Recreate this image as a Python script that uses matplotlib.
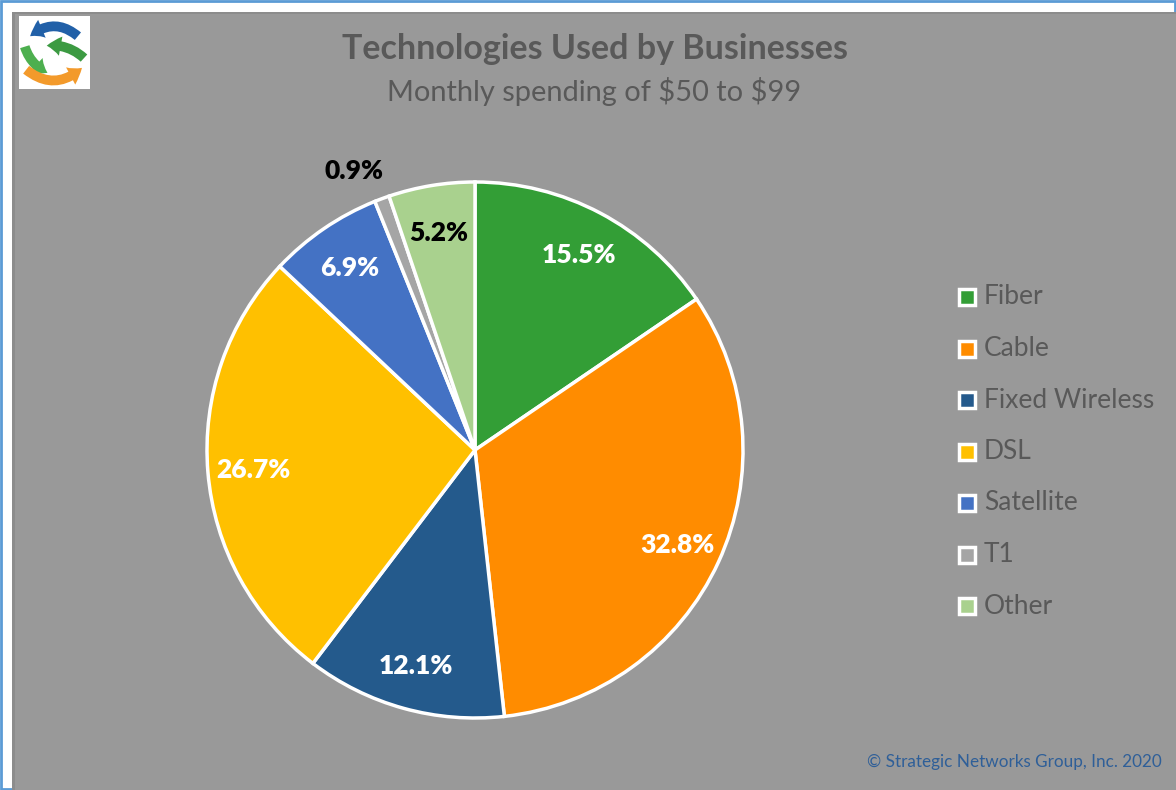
import numpy as np
import matplotlib
matplotlib.use("Agg")
import matplotlib.pyplot as plt
from matplotlib.patches import Rectangle, FancyArrowPatch

plt.rcParams['font.family'] = ['Lato', 'DejaVu Sans']

# data
techs = ["Fiber", "Cable", "Fixed Wireless", "DSL", "Satellite", "T1", "Other"]
shares = [15.5, 32.8, 12.1, 26.7, 6.9, 0.9, 5.2]
colors = ["#339E36", "#FF8C00", "#245A8C", "#FFC000", "#4472C4", "#A5A5A5", "#A9D18E"]
label_colors = ["white", "white", "white", "white", "white", "black", "black"]

title = "Technologies Used by Businesses"
subtitle = "Monthly spending of \\$50 to \\$99"
credit = "\u00a9 Strategic Networks Group, Inc. 2020"

W, H = 1176, 790
fig = plt.figure(figsize=(W / 100, H / 100), dpi=100, facecolor="white")
ax = fig.add_axes([0, 0, 1, 1])
ax.set_xlim(0, W)
ax.set_ylim(0, H)
ax.axis("off")

def py(y):
    # pixel row (from top) -> data y
    return H - y

# frame: blue border, white margin, grey panel
ax.add_patch(Rectangle((1, 1), W - 2, H - 2, fc="white", ec="#5B9BD5", lw=2, zorder=0))
ax.add_patch(Rectangle((12, 0), W - 12, py(12), fc="#999999", ec="none", zorder=0))
ax.add_patch(Rectangle((12, py(14)), W, 2, fc="#8C8C8C", ec="none", zorder=0))
ax.add_patch(Rectangle((12, 0), 3, py(12), fc="#8C8C8C", ec="none", zorder=0))

# logo
ax.add_patch(Rectangle((19, py(89)), 71, 73, fc="white", ec="none", zorder=1))
arrows = [((80, 38), (28, 38), 0.45, "#2160A8"),
          ((24, 44), (50, 74), 0.25, "#4DAF4F"),
          ((86, 60), (44, 46), 0.25, "#3C9A42"),
          ((24, 68), (84, 66), 0.45, "#F39A2B")]
for (x0, y0), (x1, y1), rad, c in arrows:
    ax.add_patch(FancyArrowPatch((x0, py(y0)), (x1, py(y1)),
                                 connectionstyle="arc3,rad=%s" % rad,
                                 arrowstyle="simple,head_width=14,head_length=10,tail_width=7",
                                 fc=c, ec="none", zorder=2))

# pie
cx, cy, r = 475, py(450), 268
wedges, _ = ax.pie(shares, colors=colors, startangle=90, counterclock=False,
                   center=(cx, cy), radius=r, frame=True,
                   wedgeprops=dict(edgecolor="white", linewidth=2.5))
ax.set_xlim(0, W)
ax.set_ylim(0, H)
ax.set_aspect("auto")
ax.axis("off")

for w, v, lc, name in zip(wedges, shares, label_colors, techs):
    mid = np.deg2rad((w.theta1 + w.theta2) / 2)
    if name == "T1":
        d, mid = 1.14 * r, mid + np.deg2rad(3)
    else:
        d = 0.83 * r
    ax.text(cx + d * np.cos(mid), cy + d * np.sin(mid), "%.1f%%" % v,
            ha="center", va="center_baseline", fontsize=19, fontweight="heavy",
            color=lc, zorder=5)

# titles
ax.text(595, py(49), title, ha="center", va="center", fontsize=24.5,
        fontweight="bold", color="#595959")
ax.text(594, py(91), subtitle, ha="center", va="center", fontsize=20.9, color="#595959")

# legend
for i, (name, c) in enumerate(zip(techs, colors)):
    yy = py(297 + i * 51.5)
    ax.add_patch(Rectangle((959, yy - 8), 16, 16, fc=c, ec="white", lw=2.5, zorder=3))
    ax.text(984, yy, name, ha="left", va="center", fontsize=19, color="#595959")

ax.text(1162, py(762), credit, ha="right", va="center", fontsize=12.3, color="#2F5F98")

fig.savefig("out.png", dpi=100, facecolor=fig.get_facecolor())
